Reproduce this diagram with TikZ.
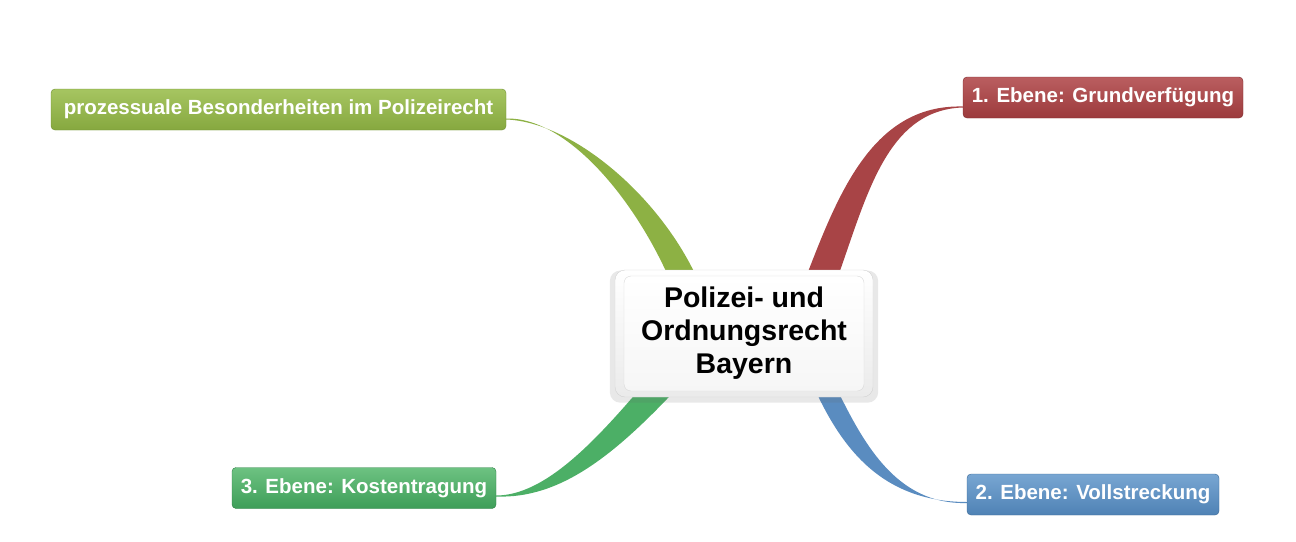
\documentclass[tikz,border=0pt]{standalone}
\usepackage{fontspec}
\setmainfont{Liberation Sans}
\usetikzlibrary{positioning,calc,shadows,backgrounds}
\definecolor{oliveA}{HTML}{A6C561}
\definecolor{oliveB}{HTML}{86A83F}
\definecolor{oliveD}{HTML}{6E8E31}
\definecolor{oliveR}{HTML}{8DB144}
\definecolor{redA}{HTML}{BA5E60}
\definecolor{redB}{HTML}{9C3A3C}
\definecolor{redD}{HTML}{7E2A2C}
\definecolor{redR}{HTML}{A84446}
\definecolor{greenA}{HTML}{6DC282}
\definecolor{greenB}{HTML}{3E9E58}
\definecolor{greenD}{HTML}{2F8046}
\definecolor{greenR}{HTML}{4CAF66}
\definecolor{blueA}{HTML}{78A6D2}
\definecolor{blueB}{HTML}{4F82B5}
\definecolor{blueD}{HTML}{3B6894}
\definecolor{blueR}{HTML}{5A8CC0}
\tikzset{
leaf/.style = {draw, rounded corners=4pt, minimum height=41pt, inner sep=0pt, text=white, font=\fontsize{20.5}{24}\selectfont\bfseries},
oliveleaf/.style = {leaf, draw=oliveD, top color=oliveA, bottom color=oliveB},
redleaf/.style = {leaf, draw=redD, top color=redA, bottom color=redB},
greenleaf/.style = {leaf, draw=greenD, top color=greenA, bottom color=greenB},
blueleaf/.style = {leaf, draw=blueD, top color=blueA, bottom color=blueB},
rootframe/.style = {draw=gray!35, rounded corners=10pt, top color=white, bottom color=gray!16, minimum width=258pt, minimum height=127pt,
  drop shadow={shadow xshift=0pt, shadow yshift=-3pt, shadow scale=1.04, opacity=0.15, fill=black!60}},
rootcore/.style = {draw=gray!30, rounded corners=7pt, top color=white, bottom color=gray!7, minimum width=240pt, minimum height=115pt,
  align=center, font=\fontsize{28.5}{33}\selectfont\bfseries},
ribbon/.style = {draw=none}
}
\begin{document}
\begin{tikzpicture}[x=1pt, y=-1pt]
\useasboundingbox (0,0) rectangle (1296,541);
\node[rootframe] (root) at (744,333.5) {};
\node[rootcore] (core) at (root.center) {Polizei- und\\Ordnungsrecht\\Bayern};
\node[oliveleaf, minimum width=455pt] (prozess) at (278.5,109.5) {prozessuale Besonderheiten im Polizeirecht};
\node[redleaf, minimum width=280pt] (grund) at (1103,97.5) {1. Ebene: Grundverfügung};
\node[greenleaf, minimum width=264pt] (kosten) at (364,488) {3. Ebene: Kostentragung};
\node[blueleaf, minimum width=252pt] (voll) at (1093,494.5) {2. Ebene: Vollstreckung};
\begin{pgfonlayer}{background}
\fill[ribbon, oliveR] ($(root.north)+(-72,15)$) .. controls +(-36,-85) and +(61,-1.5) .. ($(prozess.east)+(0,9)$)
  -- ($(prozess.east)+(0,10)$) .. controls +(68,2.5) and +(-36,-85) .. ($(root.north)+(-44,15)$) -- cycle;
\fill[ribbon, redR] ($(root.north)+(59,15)$) .. controls +(33,-85) and +(-93,-2.5) .. ($(grund.west)+(0,9)$)
  -- ($(grund.west)+(0,10)$) .. controls +(-78,2.5) and +(31,-85) .. ($(root.north)+(91,15)$) -- cycle;
\fill[ribbon, greenR] ($(root.south)+(-101,-12)$) .. controls +(-47,55) and +(49,0) .. ($(kosten.east)+(0,7.5)$)
  -- ($(kosten.east)+(0,8.5)$) .. controls +(64,2.5) and +(-65,70) .. ($(root.south)+(-64,-12)$) -- cycle;
\fill[ribbon, blueR] ($(root.south)+(69,-12)$) .. controls +(27,60) and +(-87,0) .. ($(voll.west)+(0,7.5)$)
  -- ($(voll.west)+(0,8.5)$) .. controls +(-72,2) and +(27,55) .. ($(root.south)+(91,-12)$) -- cycle;
\end{pgfonlayer}
\end{tikzpicture}
\end{document}
